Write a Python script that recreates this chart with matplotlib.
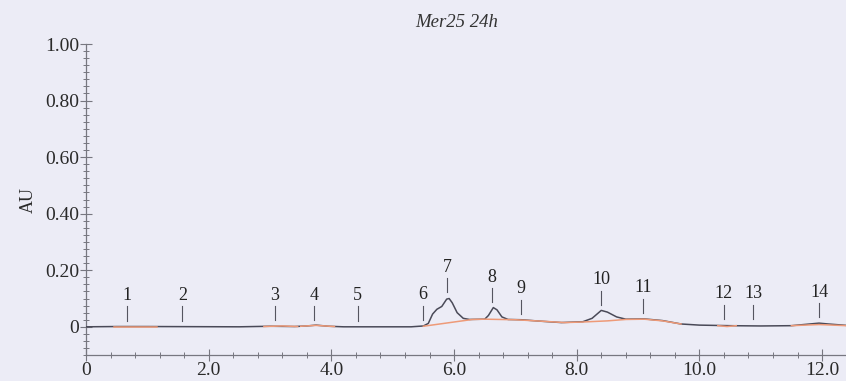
import numpy as np
import matplotlib.pyplot as plt
from matplotlib.ticker import MultipleLocator, FuncFormatter

# chromatogram trace (time in min, absorbance in AU)
trace_t = [0.0, 0.5, 1.0, 2.5, 3.0, 3.4, 3.6, 3.75, 3.95, 4.2, 5.3, 5.5, 5.58,
           5.65, 5.72, 5.80, 5.88, 5.92, 5.97, 6.05, 6.15, 6.25, 6.50, 6.56,
           6.64, 6.70, 6.78, 6.88, 7.1, 7.4, 7.75, 8.1, 8.25, 8.40, 8.5, 8.65,
           8.8, 9.1, 9.4, 9.7, 10.0, 10.5, 11.0, 11.5, 11.8, 11.95, 12.1, 12.4]
trace_au = [0.0, 0.001, 0.001, 0.0, 0.002, 0.001, 0.003, 0.006, 0.002, 0.0,
            0.0, 0.003, 0.012, 0.045, 0.062, 0.072, 0.098, 0.100, 0.085, 0.050,
            0.030, 0.026, 0.027, 0.040, 0.068, 0.060, 0.035, 0.026, 0.025,
            0.020, 0.015, 0.018, 0.030, 0.058, 0.052, 0.035, 0.027, 0.028,
            0.022, 0.010, 0.006, 0.004, 0.003, 0.004, 0.010, 0.013, 0.010, 0.005]

# integration baseline segments
base_segments = [
    ([0.45, 1.15], [0.001, 0.001]),
    ([2.9, 3.2, 3.45], [0.001, 0.003, 0.001]),
    ([3.5, 3.75, 4.05], [0.002, 0.005, 0.001]),
    ([5.5, 6.3, 6.5, 7.0, 7.5, 7.8, 8.1, 8.5, 8.8, 9.1, 9.4, 9.7],
     [0.002, 0.026, 0.027, 0.025, 0.019, 0.015, 0.017, 0.021, 0.026, 0.027, 0.021, 0.010]),
    ([10.3, 10.45, 10.6], [0.004, 0.001, 0.004]),
    ([11.5, 11.95, 12.4], [0.004, 0.008, 0.004]),
]

peak_ids = ['1', '2', '3', '4', '5', '6', '7', '8', '9', '10', '11', '12', '13', '14']
peak_t = [0.67, 1.57, 3.08, 3.72, 4.43, 5.49, 5.89, 6.62, 7.09, 8.40, 9.08, 10.40, 10.88, 11.95]
peak_mark = [0.022, 0.022, 0.024, 0.024, 0.022, 0.025, 0.122, 0.088, 0.046, 0.078,
             0.050, 0.028, 0.028, 0.035]

bg = '#ECECF6'
plt.rcParams['font.family'] = ['Liberation Serif', 'DejaVu Serif']

fig = plt.figure(figsize=(8.46, 3.81), dpi=100, facecolor=bg)
ax = fig.add_axes([0.1017, 0.068, 0.8983, 0.8165], facecolor=bg)

ax.plot(trace_t, trace_au, color='#4A4A58', lw=1.1, zorder=3)
for bt, by in base_segments:
    ax.plot(bt, by, color='#EE9A78', lw=1.1, zorder=4)

for pid, t, m in zip(peak_ids, peak_t, peak_mark):
    ax.plot([t, t], [m, m + 0.05], color='#555560', lw=0.8)
    ax.text(t, m + 0.058, pid, ha='center', va='bottom', fontsize=13, color='#222222')

ax.set_xlim(0, 12.39)
ax.set_ylim(-0.1, 1.0)
ax.xaxis.set_major_locator(MultipleLocator(2.0))
ax.xaxis.set_minor_locator(MultipleLocator(0.4))
ax.yaxis.set_major_locator(MultipleLocator(0.2))
ax.yaxis.set_minor_locator(MultipleLocator(0.025))
ax.xaxis.set_major_formatter(FuncFormatter(lambda v, p: '0' if abs(v) < 1e-9 else f'{v:.1f}'))
ax.yaxis.set_major_formatter(FuncFormatter(lambda v, p: '0' if abs(v) < 1e-9 else f'{v:.2f}'))

for s in ['top', 'right']:
    ax.spines[s].set_visible(False)
for s in ['left', 'bottom']:
    ax.spines[s].set_color('#777780')
    ax.spines[s].set_linewidth(0.9)
ax.spines['left'].set_bounds(-0.1, 1.0)

ax.tick_params(which='major', direction='inout', length=8, width=0.8, color='#777780',
               labelsize=14, labelcolor='#2A2A2A', pad=1)
ax.tick_params(which='minor', direction='inout', length=5, width=0.7, color='#777780')

ax.set_ylabel('AU', fontsize=13, color='#2A2A2A', labelpad=6)
fig.text(0.540, 0.942, 'Mer25 24h', ha='center', va='center', fontsize=13.5,
         style='italic', color='#333333')

fig.savefig('out.png', dpi=100, facecolor=bg)
